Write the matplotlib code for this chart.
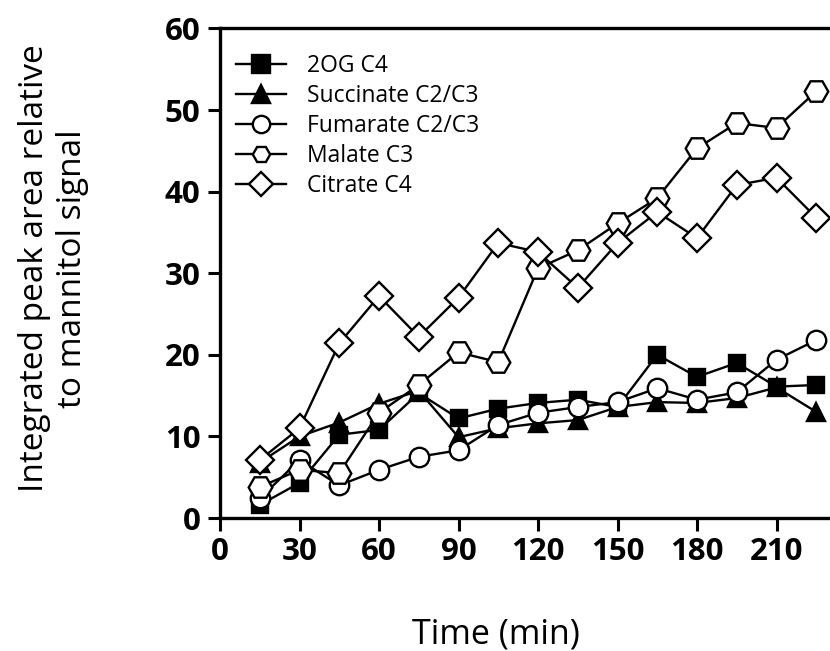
import matplotlib
matplotlib.use("Agg")
import matplotlib.pyplot as plt

time = [15, 30, 45, 60, 75, 90, 105, 120, 135, 150, 165, 180, 195, 210, 225]
og2_c4 = [1.6, 4.3, 10.2, 10.8, 15.3, 12.2, 13.4, 14.1, 14.5, 13.6, 20.0, 17.3, 19.0, 16.1, 16.3]
succinate = [6.8, 10.0, 11.7, 14.0, 15.6, 9.9, 11.0, 11.6, 12.0, 13.6, 14.2, 14.1, 14.7, 16.0, 13.0]
fumarate = [2.4, 7.1, 4.0, 5.9, 7.5, 8.3, 11.4, 12.9, 13.6, 14.2, 15.9, 14.5, 15.4, 19.4, 21.8]
malate = [3.8, 5.9, 5.5, 12.9, 16.3, 20.3, 19.1, 30.6, 32.8, 36.1, 39.2, 45.3, 48.4, 47.8, 52.3]
citrate = [7.1, 11.0, 21.4, 27.2, 22.2, 27.0, 33.7, 32.6, 28.2, 33.7, 37.5, 34.3, 40.8, 41.7, 36.8]

labels = ["2OG C4", "Succinate C2/C3", "Fumarate C2/C3", "Malate C3", "Citrate C4"]
xticks = [0, 30, 60, 90, 120, 150, 180, 210]
yticks = [0, 10, 20, 30, 40, 50, 60]

plt.rcParams['font.family'] = ['Open Sans', 'DejaVu Sans']

fig = plt.figure(figsize=(8.30, 6.51), dpi=100)
W, H = 830, 651
x0, y0 = 220, 518
pxx = 2.65
pxy = 8.16
ax = fig.add_axes([x0 / W, (H - y0) / H, 240 * pxx / W, 60 * pxy / H])
ax.set_xlim(0, 240)
ax.set_ylim(0, 60)

series = [
    (og2_c4, 's', 'black', 12),
    (succinate, '^', 'black', 13),
    (fumarate, 'o', 'white', 14),
    (malate, 'H', 'white', 17),
    (citrate, 'D', 'white', 14),
]
for (vals, m, fc, ms), lab in zip(series, labels):
    ax.plot(time, vals, color='black', lw=1.7, marker=m, markersize=ms,
            markerfacecolor=fc, markeredgecolor='black', markeredgewidth=1.7,
            label=lab, clip_on=False)

for side in ['left', 'bottom', 'top', 'right']:
    ax.spines[side].set_linewidth(2.4)

ax.set_xticks(xticks)
ax.set_yticks(yticks)
ax.tick_params(direction='out', length=9, width=2.2, labelsize=22.5, pad=5)
for lbl in ax.get_xticklabels() + ax.get_yticklabels():
    lbl.set_fontweight('bold')

ax.set_xlabel('Time (min)', fontsize=24.5)
ax.xaxis.set_label_coords((496 - x0) / (240 * pxx), -0.204)
ax.set_ylabel('Integrated peak area relative\nto mannitol signal', fontsize=24,
              linespacing=1.2)
ax.yaxis.set_label_coords((89 - x0) / (240 * pxx), 0.51)

leg = ax.legend(loc='upper left', frameon=False, fontsize=16.5, handlelength=2.2,
                handletextpad=0.9, labelspacing=0.26, borderaxespad=0.3,
                bbox_to_anchor=(0.0, 0.98))
for h in leg.legend_handles:
    h.set_markersize(12.5)

fig.savefig('out.png', dpi=100)
